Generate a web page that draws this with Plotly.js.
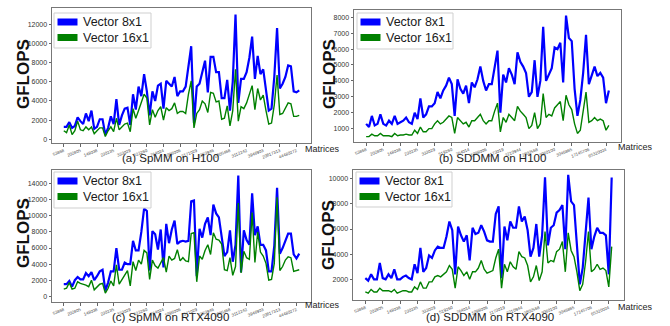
<!DOCTYPE html>
<html><head><meta charset="utf-8">
<script src="https://cdn.plot.ly/plotly-3.0.1.min.js"></script>
<style>html,body{margin:0;padding:0;background:#fff}#chart{width:670px;height:326px}</style>
</head><body><div id="chart"></div>
<script>
// ---- data ----
const spmmTicks = ["53868","202805","148038","230235","333029","523260","764024","1096006","2171029","2283946","2805468","3112242","3946903","20817313","44480272"];
const sddmmTicks = ["53868","202805","148038","230235","333029","519260","764014","1098006","1173019","2210944","2802568","3060100","3046865","17145706","65320024"];

const spmmH100_8x1 = [1300,1300,1800,1200,1400,2300,1900,1600,2700,1900,3000,1100,1300,2100,2100,500,1200,2400,1600,4200,1500,2500,3200,3300,1500,4700,3100,5500,4500,6800,5000,2500,5000,4000,5600,5800,3200,6100,5800,5500,6500,4500,5000,5000,5500,7500,9700,1700,5500,5800,7000,8200,4900,8600,8600,7000,7000,4300,4300,6200,3000,6000,13000,3800,6300,6300,7000,8500,10700,6300,8700,6800,7300,5000,3000,3200,6500,11600,5300,5800,6500,7700,7600,5000,4900,5100];
const spmmH100_16x1 = [900,700,1500,500,900,1900,1000,900,1300,1000,1300,600,900,1200,1200,300,900,1300,800,2200,1000,1300,1600,1700,800,3200,2200,3000,3800,4700,4300,1500,3100,2300,3000,3400,2000,3300,3000,3200,3800,2700,2900,2900,2700,4700,6100,1200,2700,3100,4000,3700,2800,4900,4800,3900,4000,2100,2200,3500,1400,3000,7300,1900,3400,3200,3800,4600,5600,3100,5300,4100,4600,3000,1600,1700,3600,6700,2600,2700,3300,3800,3700,2400,2400,2500];

const sddmmH100_8x1 = [1300,1100,1800,1200,1300,1900,1300,1200,1500,1300,1800,1300,1400,1500,1700,1400,1300,2000,1600,2900,1700,1900,2400,2400,2600,3300,2900,3400,3700,4200,3800,1800,4100,3500,3200,3700,2600,3900,3600,4100,4900,4000,3400,3800,3800,5000,5900,2000,4400,3900,4800,4400,3800,5800,5200,4900,4500,3000,3300,5300,3000,4000,7400,4000,4400,4800,6100,6000,6400,3900,8100,6700,6500,3500,1800,2800,4500,6900,3800,4300,4900,4300,4500,4200,2600,3400];
const sddmmH100_16x1 = [500,500,650,550,550,700,550,550,550,500,700,550,600,600,650,600,600,900,700,1100,800,800,1000,1000,1300,1500,1300,1400,1600,1800,1700,700,1700,1500,1300,1400,1100,1500,1500,1700,1900,1500,1300,1500,1500,2100,2600,800,1700,1400,1900,1700,1500,2400,2100,1900,1700,1000,1200,2000,1000,1300,3200,1700,1900,1800,2300,2500,2700,1500,3100,2500,2200,1300,700,900,2000,3300,1400,1500,1700,1500,1600,1500,900,1200];

const spmm4090_8x1 = [1500,1500,1900,1200,2000,2400,2100,2100,2900,2500,3000,2000,2500,3100,3300,700,1700,3100,3100,6000,3300,3300,4200,4000,4000,6900,5700,5700,8000,10900,10600,3200,8100,7700,5800,8300,3600,9000,6600,8300,9400,6500,6800,6900,6800,6900,11800,11900,2500,8400,7300,9000,9800,7600,11400,10300,9800,7200,5000,5500,8200,4300,6400,15000,3000,8200,7000,6400,12800,7600,8700,6400,6400,5700,3100,3100,6300,13500,5300,6000,7000,7800,7800,5200,4700,5300];
const spmm4090_16x1 = [900,1000,1700,900,1000,1800,1600,1500,1400,1200,2000,800,1100,1500,1600,400,1000,1900,1300,3900,1500,2100,2700,3200,1300,4300,3200,4500,4000,5700,5400,2100,4500,3800,3500,4200,4800,3000,5000,4500,4700,5800,4400,4800,4400,4300,7800,7900,1800,5000,4600,5700,6400,5200,7900,7100,7000,6500,3300,3200,4800,2600,3700,11600,2900,5600,4800,4600,10400,4200,8000,5500,5000,4100,2000,2100,4100,12300,3200,3700,4500,4900,4800,3100,3200,3300];

const sddmm4090_8x1 = [2100,1900,2400,2000,2000,3300,2100,2000,2400,2100,2800,2000,2000,2200,2300,2100,2000,3200,2500,4500,2600,2900,3900,3700,4300,4600,4500,4500,5400,6600,5900,2400,6200,5500,5000,5500,3500,6100,5600,5700,6300,5800,5100,5000,5000,7200,7800,2100,6200,5100,6600,6100,6100,7800,6600,7000,5900,3800,4500,6400,3800,5500,10100,4700,6100,6300,7300,7500,7900,4400,10300,8200,7900,4400,1600,2900,5900,8500,4400,5400,6100,5700,5700,5500,2400,10100];
const sddmm4090_16x1 = [1000,900,1200,1000,1000,1300,1100,1100,1100,1000,1200,900,1000,1100,1100,1000,1000,1400,1200,1800,1300,1300,1800,1800,2200,2300,2200,2400,2600,3100,2800,1300,3000,2700,2300,2600,2000,2600,2600,2900,3500,2800,2500,2600,2700,3700,4400,1300,3200,2600,3400,3000,2800,4200,3800,3700,3100,1800,2200,3100,1900,2600,5800,3300,3500,3400,4200,4400,5000,2600,5700,4300,3800,2600,1100,1600,3400,5800,2600,2800,3200,2800,2900,2700,1400,4600];

const seriesNames = ["Vector 8x1", "Vector 16x1"];
const subTitles = ["(a) SpMM on H100", "(b) SDDMM on H100", "(c) SpMM on RTX4090", "(d) SDDMM on RTX4090"];

// ---- styling ----
const W = 670, H = 326;
const BLUE = "#0000ff", GREEN = "#008000";
const FONT = "Liberation Sans, Arial, sans-serif";
const NARROW = "Liberation Sans Narrow, Liberation Sans, Arial, sans-serif";
const panels = [
  {d8: spmmH100_8x1, d16: spmmH100_16x1, ticks: spmmTicks, box: [52, 311, 8, 143], yr: [-375, 13680], dt: 2000,
   gx: 23, gy: 74, mx: 303, my: 149, tx: 170, ty: 158, lb: [54, 151, 13, 48]},
  {d8: sddmmH100_8x1, d16: sddmmH100_16x1, ticks: sddmmTicks, box: [354, 621, 10, 142], yr: [160, 8456], dt: 1000,
   gx: 329, gy: 74, mx: 616, my: 147, tx: 492, ty: 158, lb: [357, 453, 13, 49]},
  {d8: spmm4090_8x1, d16: spmm4090_16x1, ticks: spmmTicks, box: [52, 311, 170, 302], yr: [-710, 15700], dt: 2000,
   gx: 23, gy: 233, mx: 303, my: 305, tx: 170, ty: 317, lb: [54, 151, 172, 208]},
  {d8: sddmm4090_8x1, d16: sddmm4090_16x1, ticks: sddmmTicks, box: [353, 624, 170, 300], yr: [360, 10690], dt: 2000,
   gx: 329, gy: 235, mx: 616, my: 307, tx: 490, ty: 317, lb: [356, 452, 172, 207]}
];

const traces = [];
const layout = {
  width: W, height: H, margin: {l: 0, r: 0, t: 0, b: 0},
  paper_bgcolor: "#fff", plot_bgcolor: "#fff", showlegend: false,
  font: {family: FONT, color: "#222"}, annotations: [], shapes: []
};
const px = v => v / W, py = v => 1 - v / H;

panels.forEach((p, k) => {
  const n = k + 1, sfx = n === 1 ? "" : String(n);
  const xa = "x" + sfx, ya = "y" + sfx;
  traces.push({x: p.d8.map((_, i) => i), y: p.d8, xaxis: xa, yaxis: ya, mode: "lines", name: seriesNames[0],
               line: {color: BLUE, width: 2.2}, hoverinfo: "skip"});
  traces.push({x: p.d16.map((_, i) => i), y: p.d16, xaxis: xa, yaxis: ya, mode: "lines", name: seriesNames[1],
               line: {color: GREEN, width: 1.4}, hoverinfo: "skip"});

  const [x0, x1, y0, y1] = p.box;
  const tv = p.ticks.map((_, i) => i * 6);
  layout["xaxis" + sfx] = {
    domain: [px(x0), px(x1)], anchor: ya, range: [-4.25, 89.25],
    tickvals: tv, ticktext: p.ticks, tickangle: -22, tickfont: {size: 4.3, color: "#444"},
    ticks: "outside", ticklen: 2.5, tickcolor: "#666", showline: true, mirror: true,
    linecolor: "#777", linewidth: 1, showgrid: false, zeroline: false
  };
  layout["yaxis" + sfx] = {
    domain: [py(y1), py(y0)], anchor: xa, range: p.yr, dtick: p.dt, tick0: 0,
    tickformat: "d", tickfont: {size: 7, color: "#333"},
    ticks: "outside", ticklen: 2.5, tickcolor: "#666", showline: true, mirror: true,
    linecolor: "#777", linewidth: 1, showgrid: false, zeroline: false
  };

  // legend box (drawn as shapes + text)
  const [lx0, lx1, ly0, ly1] = p.lb;
  layout.shapes.push({type: "rect", xref: "paper", yref: "paper", x0: px(lx0), x1: px(lx1), y0: py(ly1), y1: py(ly0),
                      fillcolor: "rgba(255,255,255,0.9)", line: {color: "#cfcfcf", width: 1}, layer: "above"});
  const rows = [ly0 + 9, ly0 + 24.5];
  [BLUE, GREEN].forEach((c, j) => {
    layout.shapes.push({type: "rect", xref: "paper", yref: "paper", x0: px(lx0 + 3.5), x1: px(lx0 + 23.5),
                        y0: py(rows[j] + 3.5), y1: py(rows[j] - 3.5), fillcolor: c, line: {width: 0}, layer: "above"});
    layout.annotations.push({text: seriesNames[j], xref: "paper", yref: "paper", x: px(lx0 + 27), y: py(rows[j]),
                             xanchor: "left", yanchor: "middle", showarrow: false,
                             font: {size: 12.5, color: "#1a1a1a", family: FONT}});
  });

  layout.annotations.push(
    {text: "<b>GFLOPS</b>", xref: "paper", yref: "paper", x: px(p.gx), y: py(p.gy),
     xanchor: "center", yanchor: "middle", textangle: -90, showarrow: false,
     font: {size: 17, color: "#111", family: NARROW}},
    {text: "Matrices", xref: "paper", yref: "paper", x: px(p.mx), y: py(p.my),
     xanchor: "left", yanchor: "middle", showarrow: false, font: {size: 9, color: "#222", family: FONT}},
    {text: subTitles[k], xref: "paper", yref: "paper", x: px(p.tx), y: py(p.ty),
     xanchor: "center", yanchor: "middle", showarrow: false, font: {size: 11.5, color: "#222", family: FONT}}
  );
});

Plotly.newPlot("chart", traces, layout, {displayModeBar: false, staticPlot: true});
</script></body></html>
